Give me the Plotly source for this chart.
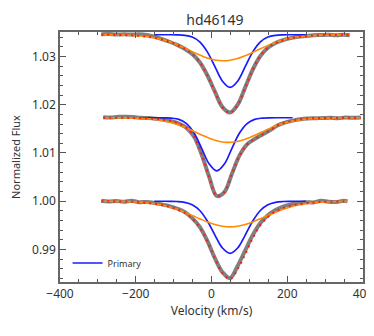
import plotly.graph_objects as go

# ---------------- data ----------------
# Top profile (continuum ~1.0345)
v_top = [-291, -271, -251, -231, -211, -191, -171, -151, -131, -111, -91, -71, -51, -31, -11, 9, 29, 49,
         69, 89, 109, 129, 149, 169, 189, 209, 229, 249, 269, 289, 309, 329, 349, 365]
obs_top = [1.0346, 1.03465, 1.03455, 1.0346, 1.03455, 1.0346, 1.03445, 1.0341, 1.0336, 1.03305, 1.0324,
           1.0316, 1.0305, 1.0288, 1.0261, 1.0227, 1.0195, 1.0184, 1.0200, 1.0236, 1.0273, 1.0301, 1.0318,
           1.0328, 1.0334, 1.0338, 1.0341, 1.03425, 1.0344, 1.03445, 1.0345, 1.0344, 1.0345, 1.0344]
fit_top = [1.0345, 1.03448, 1.03447, 1.03444, 1.03438, 1.03428, 1.03411, 1.03386, 1.03351, 1.03303,
           1.03241, 1.03162, 1.03052, 1.02882, 1.02614, 1.02266, 1.01948, 1.01831, 1.01996, 1.02354,
           1.02731, 1.03013, 1.03182, 1.0328, 1.0334, 1.0338, 1.03407, 1.03425, 1.03436, 1.03443,
           1.03446, 1.03448, 1.03449, 1.0345]
sec_top = [1.0345, 1.03448, 1.03447, 1.03444, 1.03438, 1.03428, 1.03411, 1.03386, 1.03351, 1.03303,
           1.03243, 1.03174, 1.031, 1.03029, 1.02968, 1.02927, 1.0291, 1.02921, 1.02958, 1.03015,
           1.03085, 1.0316, 1.0323, 1.03292, 1.03342, 1.0338, 1.03407, 1.03425, 1.03436, 1.03443,
           1.03446, 1.03448, 1.03449, 1.0345]
vp_top = [-151, -131, -111, -91, -71, -51, -31, -11, 9, 29, 49, 69, 89, 109, 129, 149, 169, 189, 209, 229, 249]
pri_top = [1.0345, 1.0345, 1.0345, 1.03448, 1.03438, 1.03402, 1.03303, 1.03096, 1.02789, 1.02488, 1.0236,
           1.02488, 1.02789, 1.03096, 1.03303, 1.03402, 1.03438, 1.03448, 1.0345, 1.0345, 1.0345]

# Middle profile (continuum ~1.0173)
v_mid = [-286, -266, -246, -226, -206, -186, -166, -146, -126, -106, -86, -66, -46, -26, -6, 14, 34, 54,
         74, 94, 114, 134, 154, 174, 194, 214, 234, 254, 274, 294, 314, 334, 354, 374, 394]
obs_mid = [1.0174, 1.01735, 1.0175, 1.0175, 1.01745, 1.0173, 1.01725, 1.0171, 1.0169, 1.0166, 1.0161,
           1.0152, 1.0134, 1.0097, 1.0050, 1.0011, 1.0019, 1.0057, 1.0095, 1.0118, 1.0129, 1.0138, 1.0147,
           1.0157, 1.0163, 1.0167, 1.0170, 1.01715, 1.0172, 1.01725, 1.0173, 1.0172, 1.01735, 1.0173, 1.01735]
fit_mid = [1.0173, 1.0173, 1.0173, 1.01729, 1.01727, 1.01724, 1.01718, 1.01706, 1.01688, 1.0166, 1.0161,
           1.0152, 1.0134, 1.0097, 1.0050, 1.0011, 1.0019, 1.0057, 1.0094, 1.0118, 1.0129, 1.0138, 1.0147,
           1.0157, 1.0163, 1.0167, 1.0170, 1.01715, 1.01722, 1.01726, 1.01728, 1.0173, 1.0173, 1.0173, 1.0173]
sec_mid = [1.0173, 1.0173, 1.01729, 1.01727, 1.01724, 1.01718, 1.01708, 1.01692, 1.01666, 1.01629, 1.01579,
           1.01517, 1.01446, 1.01373, 1.01306, 1.01254, 1.01224, 1.01223, 1.0125, 1.013, 1.01366, 1.01439,
           1.0151, 1.01573, 1.01624, 1.01663, 1.01689, 1.01707, 1.01718, 1.01724, 1.01727, 1.01729, 1.0173,
           1.0173, 1.0173]
vp_mid = [-186, -166, -146, -126, -106, -86, -66, -46, -26, -6, 14, 34, 54, 74, 94, 114, 134, 154, 174, 194, 214]
pri_mid = [1.0173, 1.0173, 1.0173, 1.01729, 1.01722, 1.01696, 1.0161, 1.01414, 1.01098, 1.00772, 1.0063,
           1.00772, 1.01098, 1.01414, 1.0161, 1.01696, 1.01722, 1.01729, 1.0173, 1.0173, 1.0173]

# Bottom profile (continuum 1.0000)
v_bot = [-291, -271, -251, -231, -211, -191, -171, -151, -131, -111, -91, -71, -51, -31, -11, 9, 29, 49,
         69, 89, 109, 129, 149, 169, 189, 209, 229, 249, 269, 289, 309, 329, 349, 359]
obs_bot = [1.0001, 0.99995, 1.00005, 0.9999, 1.0001, 0.9998, 0.99985, 0.99965, 0.99935, 0.9990, 0.9985,
           0.9978, 0.9965, 0.9947, 0.9918, 0.9882, 0.9853, 0.9841, 0.9866, 0.9898, 0.9930, 0.9955, 0.9971,
           0.9982, 0.9989, 0.99935, 0.9996, 0.9998, 0.99975, 1.0001, 0.9999, 0.99985, 1.0001, 1.0000]
fit_bot = [0.99999, 0.99999, 0.99997, 0.99995, 0.9999, 0.99982, 0.9997, 0.9995, 0.99922, 0.99885, 0.99835,
           0.99762, 0.99642, 0.99455, 0.99170, 0.98817, 0.98513, 0.9839, 0.98595, 0.98905, 0.99240,
           0.99505, 0.99675, 0.99790, 0.99860, 0.99905, 0.99935, 0.9996, 0.99975, 0.99985, 0.9999,
           0.99995, 0.99997, 0.99998]
sec_bot = [0.99999, 0.99999, 0.99997, 0.99995, 0.9999, 0.99982, 0.9997, 0.9995, 0.99922, 0.99883, 0.99833,
           0.99774, 0.99706, 0.99637, 0.99572, 0.99518, 0.99482, 0.9947, 0.99482, 0.99518, 0.99572,
           0.99637, 0.99706, 0.99774, 0.99833, 0.99883, 0.99922, 0.9995, 0.9997, 0.99982, 0.9999,
           0.99995, 0.99997, 0.99998]
vp_bot = [-151, -131, -111, -91, -71, -51, -31, -11, 9, 29, 49, 69, 89, 109, 129, 149, 169, 189, 209, 229, 249]
pri_bot = [1.0, 1.0, 0.99999, 0.99995, 0.99978, 0.99928, 0.99809, 0.99592, 0.99299, 0.99031, 0.9892,
           0.99031, 0.99299, 0.99592, 0.99809, 0.99928, 0.99978, 0.99995, 0.99999, 1.0, 1.0]

x_tickvals = [-400, -200, 0, 200, 400]
x_ticktext = ["\u2212400", "\u2212200", "0", "200", "400"]
y_tickvals = [0.99, 1.00, 1.01, 1.02, 1.03]
y_ticktext = ["0.99", "1.00", "1.01", "1.02", "1.03"]

# ---------------- figure ----------------
GRAY = "#808080"
RED = "#ff1a1a"
BLUE = "#1a1aff"
ORANGE = "#ff8c00"

fig = go.Figure()
profiles = [
    (v_top, obs_top, fit_top, sec_top, vp_top, pri_top),
    (v_mid, obs_mid, fit_mid, sec_mid, vp_mid, pri_mid),
    (v_bot, obs_bot, fit_bot, sec_bot, vp_bot, pri_bot),
]
for i, (v, obs, fit, sec, vp, pri) in enumerate(profiles):
    fig.add_trace(go.Scatter(x=v, y=obs, mode="lines", line=dict(color=GRAY, width=4, shape="spline"),
                             showlegend=False, hoverinfo="skip"))
    fig.add_trace(go.Scatter(x=vp, y=pri, mode="lines", line=dict(color=BLUE, width=1.7, shape="spline"),
                             name="Primary", showlegend=(i == 0), legendgroup="p"))
    fig.add_trace(go.Scatter(x=v, y=sec, mode="lines", line=dict(color=ORANGE, width=1.6, shape="spline"),
                             showlegend=False, name="Secondary"))
    fig.add_trace(go.Scatter(x=v, y=fit, mode="lines",
                             line=dict(color=RED, width=2, dash="2px,4px", shape="spline"),
                             showlegend=False, name="Fit"))

axis_common = dict(
    showline=True, linecolor="#666666", linewidth=1.5, mirror="allticks",
    ticks="inside", ticklen=6, tickwidth=1.2, tickcolor="#555555",
    showgrid=False, zeroline=False, automargin=False,
    tickfont=dict(family="Noto Sans", size=12, color="#333333"),
)
fig.update_xaxes(range=[-400, 400], tickvals=x_tickvals, ticktext=x_ticktext,
                 minor=dict(ticks="inside", ticklen=3, dtick=50, tickcolor="#555555", tickwidth=1),
                 title=dict(text="Velocity (km/s)", font=dict(family="Noto Sans", size=12, color="#333333"),
                            standoff=2),
                 **axis_common)
fig.update_yaxes(range=[0.98327, 1.03507], tickvals=y_tickvals, ticktext=y_ticktext,
                 minor=dict(ticks="inside", ticklen=3, dtick=0.002, tickcolor="#555555", tickwidth=1),
                 title=dict(text="Normalized Flux", font=dict(family="Noto Sans", size=11, color="#333333"),
                            standoff=9),
                 **axis_common)

# the page places the figure 8 px in from the top-left corner
fig.update_layout(
    width=366, height=328,
    margin=dict(l=52, r=11, t=24, b=54, autoexpand=False),
    paper_bgcolor="white", plot_bgcolor="white",
    title=dict(text="hd46149", x=0.5655, xanchor="center", y=0.963, yanchor="middle",
               font=dict(family="Noto Sans", size=14, color="#333333")),
    legend=dict(x=0.025, y=0.076, xanchor="left", yanchor="middle", bgcolor="rgba(0,0,0,0)",
                font=dict(family="Noto Sans", size=9, color="#333333"), itemwidth=30),
    showlegend=True,
)

fig.write_html("out.html")
